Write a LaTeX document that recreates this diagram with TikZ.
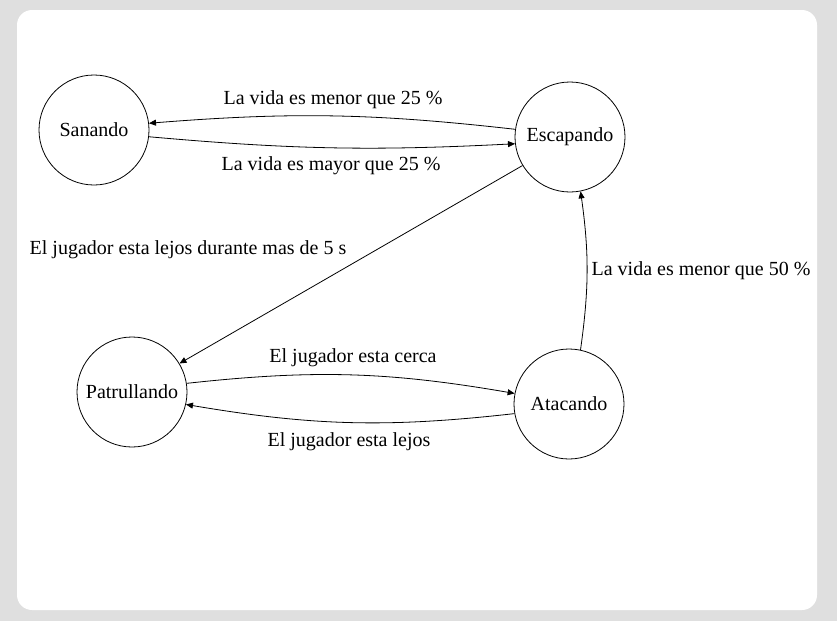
\documentclass[tikz,border=0pt]{standalone}
\usepackage{fontspec}
\setmainfont{Liberation Serif}
\usepackage{tikz}
\usetikzlibrary{arrows.meta}

\begin{document}
\begin{tikzpicture}[x=1pt,y=-1pt]
        \tikzstyle{state} = [draw,circle,minimum size=110pt,inner sep=0pt,line width=0.8pt]
        \tikzstyle{edge} = [draw,line width=0.8pt,-{Triangle[length=7pt,width=6pt]}]
        \fontsize{20}{24}\selectfont
        \fill[gray!25] (0,0) rectangle (837,621);
        \fill[white,rounded corners=15pt] (17,10) rectangle (817,610);
        \foreach \n/\x/\y/\t in {san/94/130/Sanando,esc/570/137/Escapando,pat/132/392/Patrullando,ata/569/404/Atacando}{
          \node[state] (\n) at (\x,\y) {\t};
        }
        \path[edge] (esc.172) to[bend right=5.5] (san.7);
        \path[edge] (san.-7) to[bend right=4] (esc.187);
        \path[edge] (esc.211) -- (pat.31);
        \path[edge] (ata.78) to[bend right=8] (esc.-79);
        \path[edge] (pat.9) to[bend left=8] (ata.169);
        \path[edge] (ata.190) to[bend left=8] (pat.-13);
        \node (l1) at (333,100) {La vida es menor que 25 \%};
        \node (l2) at (331,166) {La vida es mayor que 25 \%};
        \node (l3) at (188,250) {El jugador esta lejos durante mas de 5 s};
        \node (l4) at (701,271) {La vida es menor que 50 \%};
        \node (l5) at (353,358) {El jugador esta cerca};
        \node (l6) at (349,442) {El jugador esta lejos};
      \end{tikzpicture}
\end{document}
